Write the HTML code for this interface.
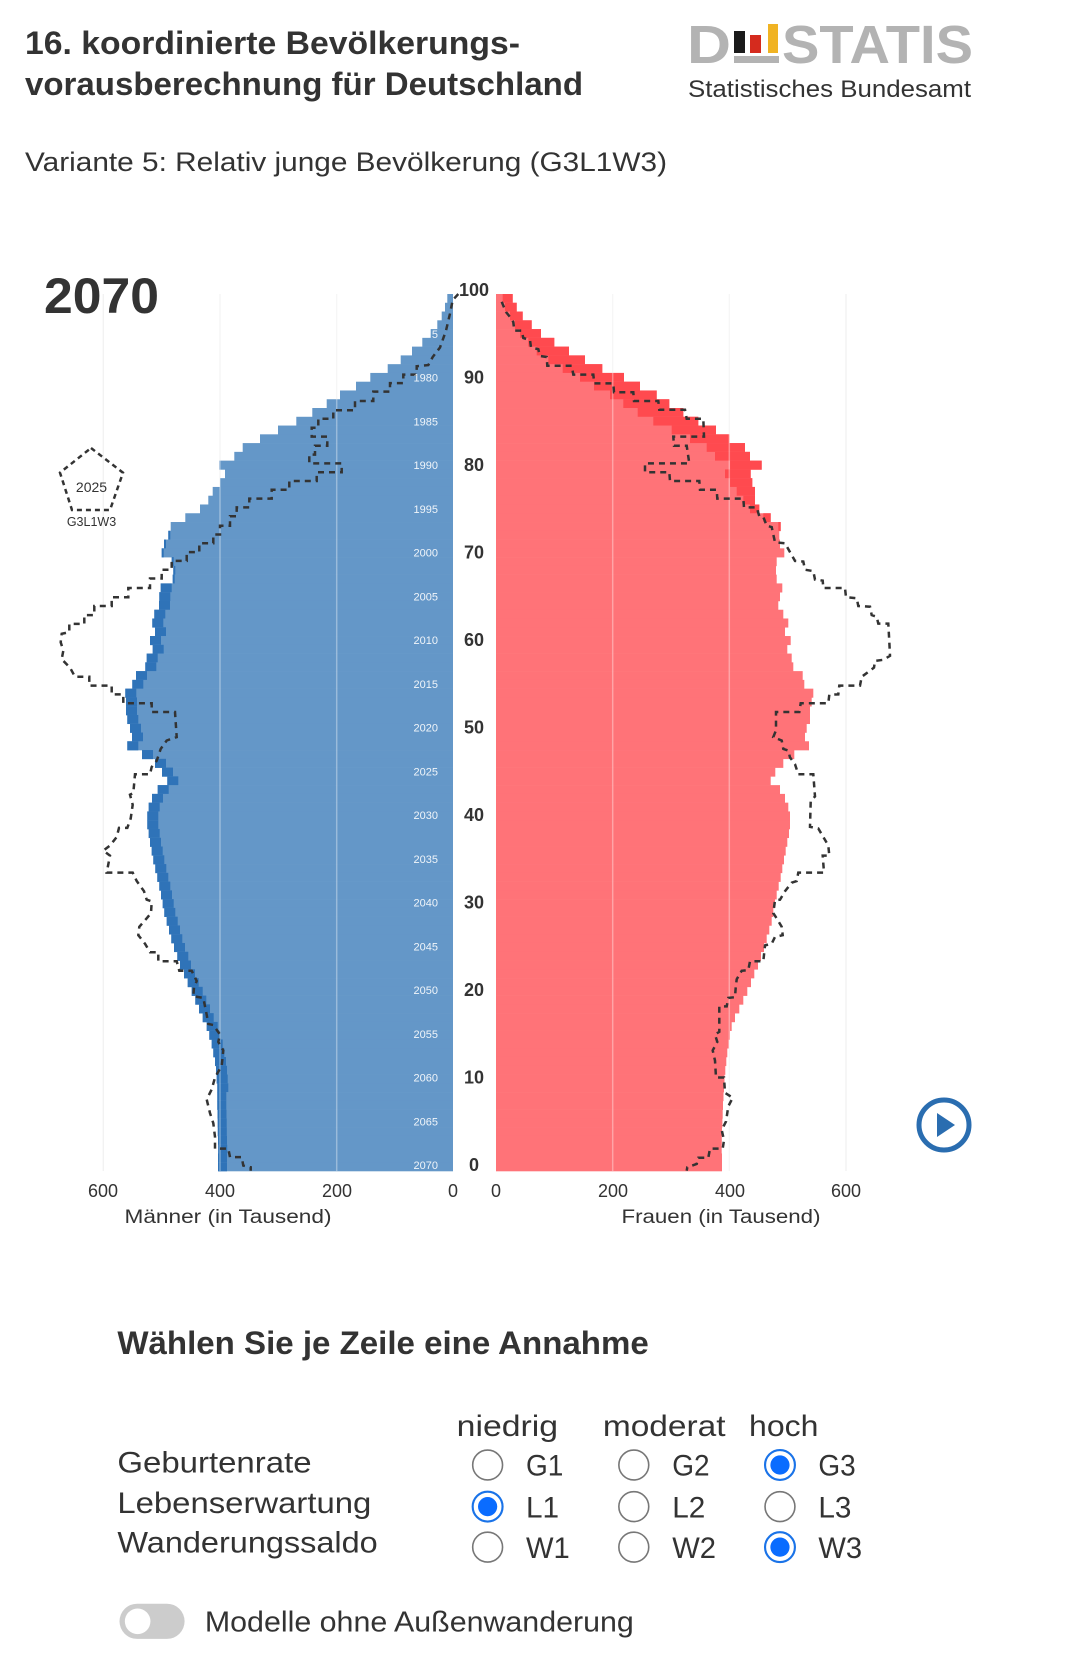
<!DOCTYPE html>
<html><head><meta charset="utf-8"><style>
html,body{margin:0;padding:0;background:#fff}
svg{display:block}
text{font-family:"Liberation Sans",sans-serif;fill:#333}
</style></head><body>
<svg id="s" width="1080" height="1674" viewBox="0 0 1080 1674" xmlns="http://www.w3.org/2000/svg">
<!-- Header -->
<text x="25" y="54" font-size="32" font-weight="bold" textLength="495" lengthAdjust="spacingAndGlyphs">16. koordinierte Bevölkerungs-</text>
<text x="25" y="95" font-size="32" font-weight="bold" textLength="558" lengthAdjust="spacingAndGlyphs">vorausberechnung für Deutschland</text>
<text x="25" y="171" font-size="27" textLength="642" lengthAdjust="spacingAndGlyphs">Variante 5: Relativ junge Bevölkerung (G3L1W3)</text>
<!-- Destatis logo -->
<text x="687" y="63" font-size="54" font-weight="bold" style="fill:#b3b3b3" textLength="44" lengthAdjust="spacingAndGlyphs">D</text>
<rect x="734" y="31" width="11" height="22" fill="#1a1a1a"/>
<rect x="750" y="35" width="11" height="18" fill="#d52b1e"/>
<rect x="768" y="24" width="10" height="29" fill="#f0b323"/>
<rect x="734" y="56" width="45" height="7" fill="#b3b3b3"/>
<text x="782" y="63" font-size="54" font-weight="bold" style="fill:#b3b3b3" textLength="191" lengthAdjust="spacingAndGlyphs">STATIS</text>
<text x="688" y="97" font-size="24" textLength="283" lengthAdjust="spacingAndGlyphs">Statistisches Bundesamt</text>
<text x="44" y="313" font-size="50" font-weight="bold" textLength="115" lengthAdjust="spacingAndGlyphs">2070</text>
<g id="bars"></g>
<!-- legend pentagon -->
<polygon points="91,448 123,472.7 110,510 72,510 60,472.7" fill="none" stroke="#333" stroke-width="2.5" stroke-dasharray="5,4"/>
<text x="91.5" y="492" font-size="14" text-anchor="middle">2025</text>
<text x="91.5" y="526" font-size="12.5" text-anchor="middle">G3L1W3</text>
<!-- play button -->
<circle cx="944" cy="1125" r="25" fill="#fff" stroke="#2a6db0" stroke-width="5"/>
<polygon points="937,1113 937,1137 955,1125" fill="#2a6db0"/>
<!-- tick labels -->
<g font-size="18">
<text x="103" y="1197" text-anchor="middle">600</text>
<text x="220" y="1197" text-anchor="middle">400</text>
<text x="337" y="1197" text-anchor="middle">200</text>
<text x="453" y="1197" text-anchor="middle">0</text>
<text x="496" y="1197" text-anchor="middle">0</text>
<text x="613" y="1197" text-anchor="middle">200</text>
<text x="730" y="1197" text-anchor="middle">400</text>
<text x="846" y="1197" text-anchor="middle">600</text>
</g>
<text x="228" y="1223" font-size="19" text-anchor="middle" textLength="207" lengthAdjust="spacingAndGlyphs">Männer (in Tausend)</text>
<text x="721" y="1223" font-size="19" text-anchor="middle" textLength="199" lengthAdjust="spacingAndGlyphs">Frauen (in Tausend)</text>
<!-- Bottom controls (main coords scaled) -->
<g transform="scale(1.067)">
<text x="110" y="1269" font-size="30" font-weight="bold" textLength="498" lengthAdjust="spacingAndGlyphs">Wählen Sie je Zeile eine Annahme</text>
<g font-size="28">
<text x="428" y="1346" textLength="95" lengthAdjust="spacingAndGlyphs">niedrig</text>
<text x="565" y="1346" textLength="115" lengthAdjust="spacingAndGlyphs">moderat</text>
<text x="702" y="1346" textLength="65" lengthAdjust="spacingAndGlyphs">hoch</text>
<text x="110" y="1380" textLength="182" lengthAdjust="spacingAndGlyphs">Geburtenrate</text>
<text x="110" y="1418" textLength="238" lengthAdjust="spacingAndGlyphs">Lebenserwartung</text>
<text x="110" y="1455" textLength="244" lengthAdjust="spacingAndGlyphs">Wanderungssaldo</text>
<text x="493" y="1383" textLength="35" lengthAdjust="spacingAndGlyphs">G1</text>
<text x="630" y="1383" textLength="35" lengthAdjust="spacingAndGlyphs">G2</text>
<text x="767" y="1383" textLength="35" lengthAdjust="spacingAndGlyphs">G3</text>
<text x="493" y="1422" textLength="31" lengthAdjust="spacingAndGlyphs">L1</text>
<text x="630" y="1422" textLength="31" lengthAdjust="spacingAndGlyphs">L2</text>
<text x="767" y="1422" textLength="31" lengthAdjust="spacingAndGlyphs">L3</text>
<text x="493" y="1460" textLength="41" lengthAdjust="spacingAndGlyphs">W1</text>
<text x="630" y="1460" textLength="41" lengthAdjust="spacingAndGlyphs">W2</text>
<text x="767" y="1460" textLength="41" lengthAdjust="spacingAndGlyphs">W3</text>
</g>
<g fill="#fff" stroke="#777" stroke-width="1.5">
<circle cx="457" cy="1373" r="14"/><circle cx="594" cy="1373" r="14"/>
<circle cx="594" cy="1412" r="14"/><circle cx="731" cy="1412" r="14"/>
<circle cx="457" cy="1450" r="14"/><circle cx="594" cy="1450" r="14"/>
</g>
<g fill="#fff" stroke="#1a73e8" stroke-width="2">
<circle cx="731" cy="1373" r="14"/><circle cx="457" cy="1412" r="14"/><circle cx="731" cy="1450" r="14"/>
</g>
<g fill="#0a6cff">
<circle cx="731" cy="1373" r="9"/><circle cx="457" cy="1412" r="9"/><circle cx="731" cy="1450" r="9"/>
</g>
<rect x="112" y="1503" width="61" height="33" rx="16.5" fill="#ccc"/>
<circle cx="129" cy="1519.5" r="12" fill="#fff"/>
<text x="192" y="1529" font-size="27" textLength="402" lengthAdjust="spacingAndGlyphs">Modelle ohne Außenwanderung</text>
</g>
</svg>
<script>
(function(){
var NS="http://www.w3.org/2000/svg";
var g=document.getElementById("bars");
function el(n,a){var e=document.createElementNS(NS,n);for(var k in a)e.setAttribute(k,a[k]);g.appendChild(e);return e;}
var top=294,h=8.77,mx0=453,fx0=496,bot=top+100*h;
var M=[447.3,445,441.7,437.3,430.7,422.3,412,400.7,387.7,370.3,356,340,326.7,312.3,296.3,278,260,242.7,234.3,219.3,225,220,212.7,208.3,200,185.3,170.7,168.3,164,161.7,171.7,173.3,172.7,160.7,159.3,159,154.3,152.3,155,150,152.7,146.7,145.3,136,132.3,125.3,126,126,
127.3,130,132,127.3,142,155,162,167.3,157.7,152,148.7,147.3,147.3,148.7,150,151.7,153.3,155.3,157.3,159.3,161,162.7,164.3,166.7,169,171.3,174,177.3,180,184,187.7,191.7,195.3,199,202.7,206.7,209.3,211.7,213.3,215,216,216.7,217.3,217.3,217.3,217.5,217.7,217.8,218,218.2];
var F=[512.7,516.7,522.7,531.7,541,554.3,569,585,602.3,624,640,656.7,669.3,683.3,698.3,716,729.3,745,750,761.7,750.7,752.3,755,755,759.3,770.7,780.7,779.3,780,784.3,776.7,776,776.7,782.3,780,778.3,783.3,788.3,785,790.7,787.3,791.7,793.3,802.7,804.3,813.3,811.7,810,
810,806.7,805,809,794.3,783.3,775.3,770.7,780,785,788.3,790,790,789,787.3,785.7,784,782.3,780.7,778.7,776.7,775,773.3,771.7,769.3,766.7,764,761,758,754.3,751,747.3,743.3,739.3,735,731.7,730,728.7,727.3,726.3,725.3,724.5,724,723.5,723,722.7,722.4,722,721.8,721.7];
var FL=[502.7,505,510,515,520,528.3,536.7,548.3,562.7,580,594,610,623.3,637.7,653.3,671.7,690,706.7,715,730,725,730,736.7,743.3,750,763.3,778.3];
[103.3,220,336.7,612.7,729.3,846].forEach(function(x){el("line",{x1:x,x2:x,y1:top,y2:bot,stroke:"#f0f0f0","stroke-width":1.2});});
for(var k=0;k<100;k++){
 var y=top+k*h, hh=h+0.3;
 var mx=M[k]||218;
 el("rect",{x:mx,y:y,width:mx0-mx,height:hh,fill:"#6497c8"});
 var dw=0; if(k>=33&&k<=90)dw=11; else if(k>90)dw=9; else if(k>=27)dw=2;
 if(dw>0)el("rect",{x:mx,y:y,width:dw,height:hh,fill:"#2f73b8"});
 var fx=F[k]||722;
 el("rect",{x:fx0,y:y,width:fx-fx0,height:hh,fill:"#ff7378"});
 if(k<FL.length)el("rect",{x:FL[k],y:y,width:Math.max(0,fx-FL[k]),height:hh,fill:"#ff4a4f"});
}
[220,336.7,612.7,729.3].forEach(function(x){el("line",{x1:x,x2:x,y1:top,y2:bot,stroke:"rgba(255,255,255,0.35)","stroke-width":1.5});});
// dashed: remap y from old scale (294..1157) to new (294..bot)
var sy=(bot-top)/(1157-top);
function conv(pts,ox,oy){return pts.map(function(p){var yy=oy+p[1]/3;yy=top+(yy-top)*sy;return (ox+p[0]/3).toFixed(1)+","+yy.toFixed(1);});}
var m3=[[1255,42],[1238,60],[1230,100],[1218,150],[1200,200],[1178,228],[1165,252],[1130,255],[1130,280],[1090,280],[1090,305],[1050,305],[1050,330],[1000,330],[1000,358],[945,358],[945,385],[880,385],[880,410],[835,410],[835,437],[815,437],[815,463],[862,463],[862,490],[825,490],[825,516],[808,516],[808,542],[905,542],[905,568],[830,568],[830,594],[748,594],[748,620],[695,620],[695,646],[628,646],[628,672],[590,672],[590,698],[570,698],[570,726],[540,726],[540,752],[520,752],[520,778],[478,778],[478,804],[440,804],[440,830],[395,830],[395,856],[365,856],[365,882],[330,882],[330,910],[265,910],[265,937],[215,937],[215,963],[163,963],[163,990],[133,990],[133,1016],[88,1016],[88,1040],[65,1045],[62,1070],[70,1095],[65,1120],[90,1145],[105,1172],[148,1172],[148,1198],[215,1198],[215,1224],[250,1224],[250,1250],[335,1250],[335,1276],[405,1276]];
var m4=[[410,90],[380,100],[362,125],[350,160],[335,178],[330,200],[285,200],[280,255],[270,260],[278,290],[272,330],[262,358],[237,358],[230,385],[210,410],[190,425],[210,440],[200,490],[278,490],[290,515],[312,545],[320,570],[335,575],[333,610],[320,625],[298,650],[295,675],[315,700],[330,725],[355,725],[355,752],[410,752],[418,780],[455,780],[470,810],[462,830],[460,855],[490,860],[495,885],[500,910],[505,937],[520,940],[540,968],[535,990],[550,1015],[545,1060],[525,1095],[515,1130],[500,1160],[510,1200],[520,1230],[525,1270],[525,1305],[565,1305],[570,1330],[605,1330],[610,1355],[632,1360],[632,1370]];
var f5=[[95,65],[108,95],[120,110],[130,125],[133,150],[155,150],[160,172],[180,178],[183,200],[205,205],[210,225],[230,228],[232,254],[305,254],[310,280],[370,280],[373,306],[430,306],[432,332],[490,332],[492,358],[565,358],[568,384],[645,384],[650,410],[700,410],[702,463],[610,463],[612,490],[650,490],[658,542],[525,542],[525,568],[598,568],[600,594],[688,594],[690,620],[740,620],[742,646],[820,646],[822,672],[860,672],[868,698],[880,700],[890,726],[905,730],[915,775],[945,778],[960,804],[975,830],[1000,832],[1005,856],[1030,860],[1035,885],[1058,888],[1060,910],[1125,910],[1128,937],[1160,940],[1165,963],[1200,965],[1205,990],[1220,995],[1225,1015],[1255,1015],[1258,1068],[1260,1110],[1240,1122],[1215,1125],[1212,1145],[1175,1172],[1170,1198],[1108,1198],[1105,1224],[1078,1225],[1075,1250],[992,1250],[988,1276],[918,1276]];
var f6=[[918,70],[910,90],[935,100],[940,125],[955,130],[960,150],[975,170],[985,200],[1030,200],[1035,265],[1022,280],[1020,355],[1045,360],[1060,385],[1075,410],[1078,440],[1058,440],[1062,490],[985,490],[980,515],[965,520],[945,545],[930,570],[915,572],[910,610],[920,625],[935,650],[938,675],[915,680],[905,700],[885,705],[880,752],[840,752],[835,778],[815,780],[800,805],[797,830],[795,858],[775,860],[770,885],[748,885],[748,960],[735,968],[742,990],[728,1015],[735,1045],[738,1095],[762,1095],[765,1140],[788,1155],[775,1180],[768,1225],[755,1250],[762,1280],[758,1305],[720,1305],[715,1332],[685,1332],[680,1350],[652,1360],[650,1370]];
var mp=conv(m3,40,280).concat(conv(m4,40,700));
var fp=conv(f5,470,280).concat(conv(f6,470,700));
[mp,fp].forEach(function(p){el("polyline",{points:p.join(" "),fill:"none",stroke:"#333","stroke-width":2.5,"stroke-dasharray":"6,5"});});
for(var a=0;a<=100;a+=10){var t=el("text",{x:474,y:(1165-8.75*a+6).toFixed(1),"font-size":18,"font-weight":"bold","text-anchor":"middle"});t.textContent=String(a);}
for(var a=0;a<=95;a+=5){var yy=(1165-8.75*a+4).toFixed(1);var t=el("text",{x:438,y:yy,"font-size":11,"text-anchor":"end",style:"fill:rgba(255,255,255,0.9)"});t.textContent=(a==95)?"5":String(2070-a);}
})();
</script>
</body></html>
